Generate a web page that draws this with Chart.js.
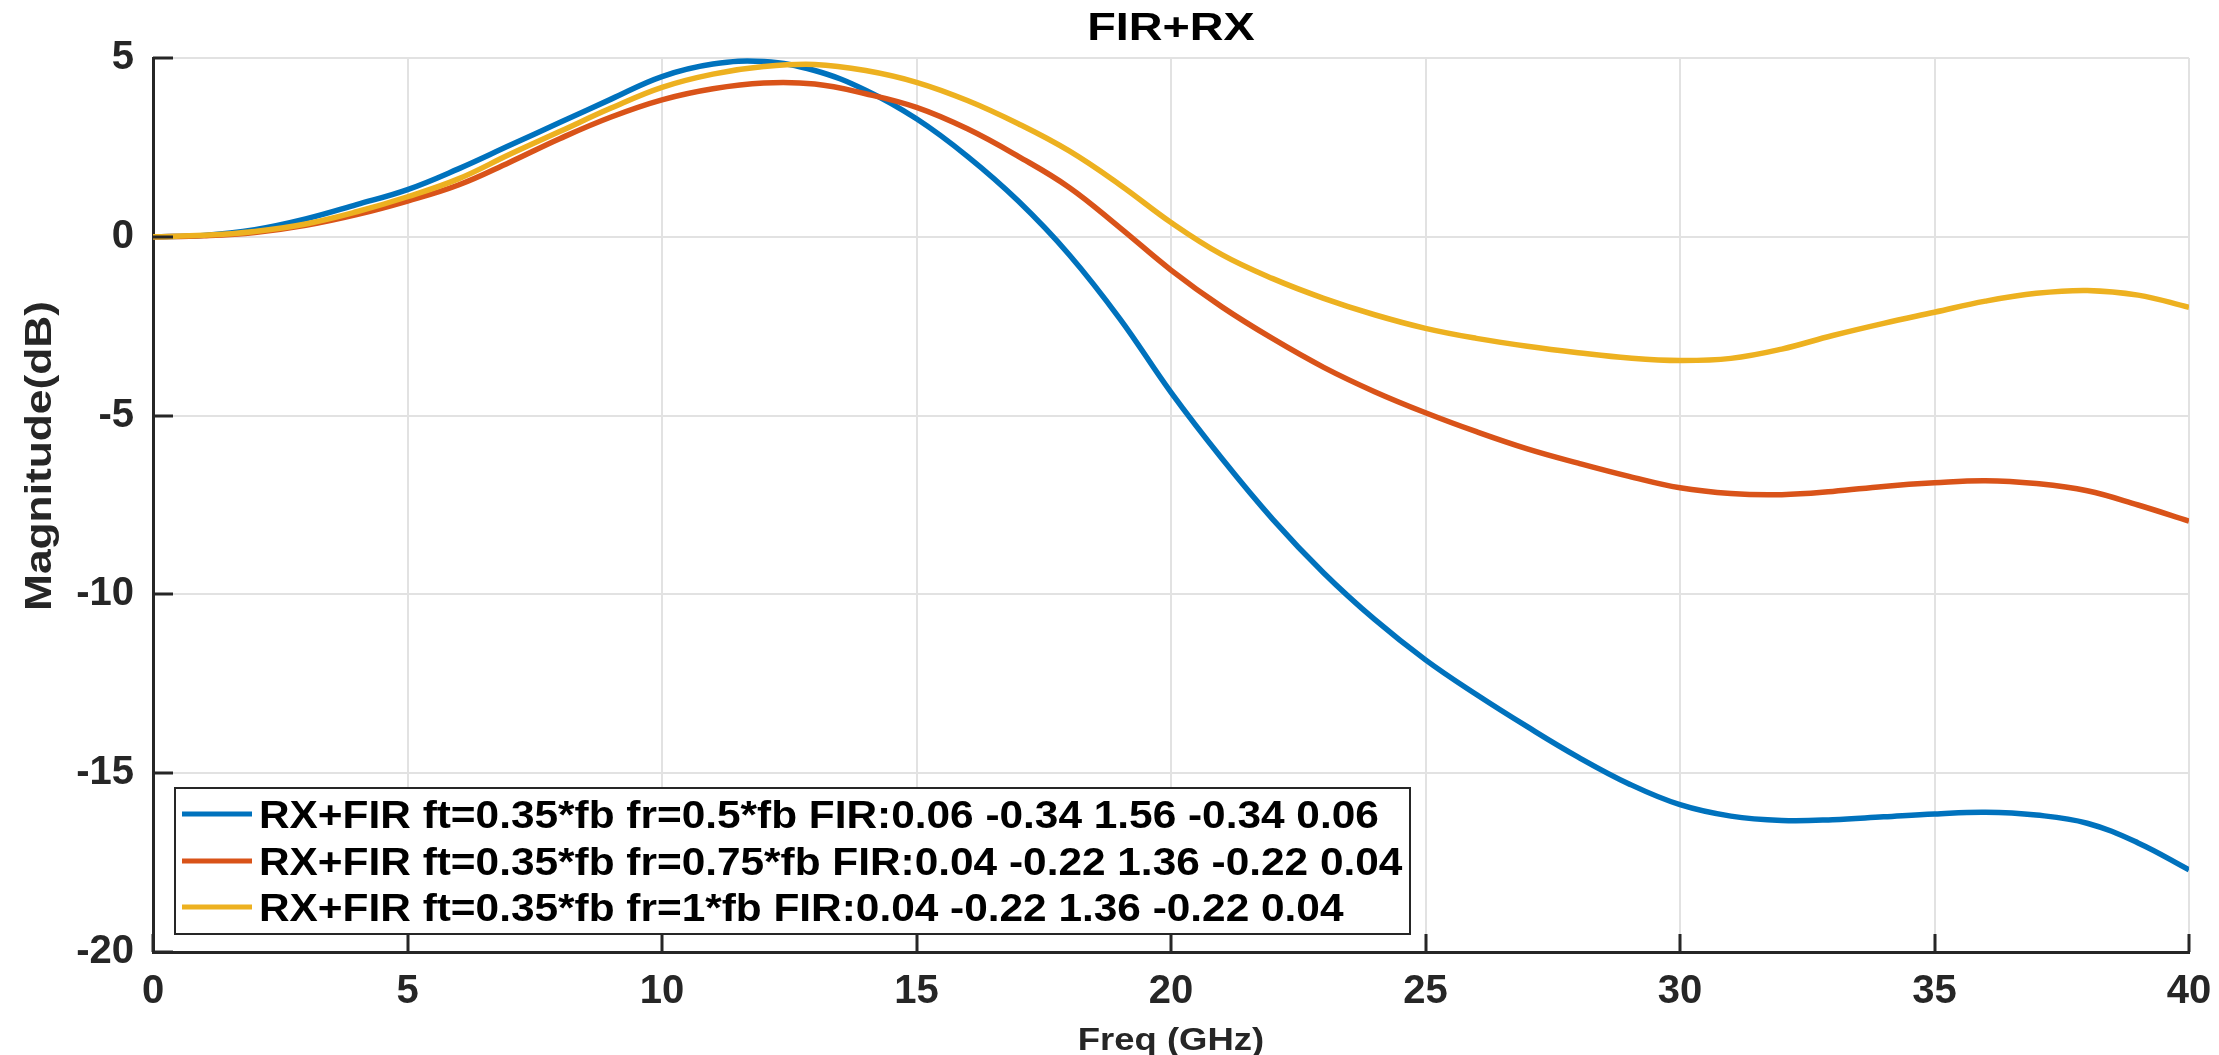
<!DOCTYPE html>
<html>
<head>
<meta charset="utf-8">
<title>FIR+RX</title>
<script src="https://cdn.jsdelivr.net/npm/chart.js@4.4.1/dist/chart.umd.min.js"></script>
<style>
    html, body { margin: 0; padding: 0; background: #ffffff; }
    #wrap { width: 2219px; height: 1055px; }
</style>
</head>
<body>
<div id="wrap"><canvas id="firChart" width="2219" height="1055"></canvas></div>
<script>
// frequency grid (GHz) and magnitude (dB)
const freqGHz = [0, 1, 2, 3, 4, 5, 6, 7, 8, 9, 10, 11, 12, 13, 14, 15, 16, 17, 18, 19, 20,
    21, 22, 23, 24, 25, 26, 27, 28, 29, 30, 31, 32, 33, 34, 35, 36, 37, 38, 39, 40];
const magFr05 = [0, 0.04, 0.2, 0.5, 0.9, 1.32, 1.9, 2.55, 3.2, 3.85, 4.48, 4.83, 4.9, 4.65, 4.1, 3.3, 2.25, 1.0, -0.5, -2.3, -4.35,
    -6.2, -7.9, -9.4, -10.7, -11.83, -12.8, -13.7, -14.55, -15.3, -15.88, -16.2, -16.32, -16.3, -16.22, -16.14, -16.09, -16.17, -16.4, -16.95, -17.7];
const magFr075 = [0, 0.03, 0.12, 0.32, 0.62, 1.0, 1.45, 2.08, 2.75, 3.35, 3.83, 4.14, 4.3, 4.27, 4.0, 3.62, 3.02, 2.25, 1.38, 0.25, -0.93,
    -1.96, -2.85, -3.65, -4.33, -4.92, -5.45, -5.93, -6.33, -6.7, -7.02, -7.18, -7.21, -7.12, -6.98, -6.88, -6.82, -6.9, -7.1, -7.5, -7.95];
const magFr1 = [0, 0.04, 0.15, 0.36, 0.7, 1.12, 1.62, 2.3, 2.95, 3.6, 4.18, 4.55, 4.76, 4.82, 4.65, 4.32, 3.81, 3.16, 2.4, 1.45, 0.4,
    -0.5, -1.17, -1.72, -2.18, -2.56, -2.84, -3.06, -3.24, -3.39, -3.46, -3.4, -3.14, -2.76, -2.42, -2.11, -1.8, -1.58, -1.5, -1.63, -1.97];

const seriesLabels = [
    'RX+FIR ft=0.35*fb fr=0.5*fb FIR:0.06 -0.34 1.56 -0.34 0.06',
    'RX+FIR ft=0.35*fb fr=0.75*fb FIR:0.04 -0.22 1.36 -0.22 0.04',
    'RX+FIR ft=0.35*fb fr=1*fb FIR:0.04 -0.22 1.36 -0.22 0.04'
];
const seriesValues = [magFr05, magFr075, magFr1];
const lineColors = ['#0072BD', '#D95319', '#EDB120'];

const xTickStep = 5;
const yTickStep = 5;
const xRange = [0, 40];
const yRange = [-20, 5];

const chartTitle = 'FIR+RX';
const xAxisTitle = 'Freq (GHz)';
const yAxisTitle = 'Magnitude(dB)';

const axisInk = '#262626';
const fontFamily = '"Liberation Sans", Arial, Helvetica, sans-serif';

// text in the source figure is stretched sideways, so draw it with a horizontal scale
function drawStretched(ctx, text, x, y, size, stretch, align, color) {
    ctx.save();
    ctx.translate(x, y);
    ctx.scale(stretch, 1);
    ctx.font = `bold ${size}px ${fontFamily}`;
    ctx.fillStyle = color;
    ctx.textAlign = align;
    ctx.textBaseline = 'alphabetic';
    ctx.fillText(text, 0, 0);
    ctx.restore();
}

const matlabDecor = {
    id: 'matlabDecor',
    afterDraw(chart) {
        const ctx = chart.ctx;
        const area = chart.chartArea;
        const xs = chart.scales.x;
        const ys = chart.scales.y;

        // inward tick marks, like the MATLAB axes
        ctx.save();
        ctx.strokeStyle = axisInk;
        ctx.lineWidth = 3;
        ctx.beginPath();
        xs.ticks.forEach(t => {
            const px = Math.round(xs.getPixelForValue(t.value));
            ctx.moveTo(px, area.bottom);
            ctx.lineTo(px, area.bottom - 18);
        });
        ys.ticks.forEach(t => {
            const py = Math.round(ys.getPixelForValue(t.value));
            ctx.moveTo(area.left, py);
            ctx.lineTo(area.left + 20, py);
        });
        ctx.stroke();
        ctx.restore();

        // title and axis labels
        const midX = (area.left + area.right) / 2;
        drawStretched(ctx, chartTitle, midX, 40, 38, 1.23, 'center', '#000000');
        drawStretched(ctx, xAxisTitle, midX, 1050, 32, 1.14, 'center', axisInk);

        ctx.save();
        ctx.translate(51, 456);
        ctx.rotate(-Math.PI / 2);
        ctx.scale(1.23, 1);
        ctx.font = `bold 36px ${fontFamily}`;
        ctx.fillStyle = axisInk;
        ctx.textAlign = 'center';
        ctx.textBaseline = 'alphabetic';
        ctx.fillText(yAxisTitle, 0, 0);
        ctx.restore();

        // legend box in the lower left of the axes
        const box = { left: 175, top: 788, right: 1410, bottom: 934 };
        ctx.save();
        ctx.fillStyle = '#ffffff';
        ctx.fillRect(box.left, box.top, box.right - box.left, box.bottom - box.top);
        ctx.strokeStyle = axisInk;
        ctx.lineWidth = 2;
        ctx.strokeRect(box.left, box.top, box.right - box.left, box.bottom - box.top);
        const rowY = [814, 861, 907];
        chart.data.datasets.forEach((ds, i) => {
            ctx.strokeStyle = ds.borderColor;
            ctx.lineWidth = 5;
            ctx.beginPath();
            ctx.moveTo(182, rowY[i]);
            ctx.lineTo(252, rowY[i]);
            ctx.stroke();
            drawStretched(ctx, ds.label, 259, rowY[i] + 13.5, 38, 1.115, 'left', '#000000');
        });
        ctx.restore();
    }
};

const ctx = document.getElementById('firChart').getContext('2d');

new Chart(ctx, {
    type: 'line',
    data: {
        datasets: seriesValues.map((vals, i) => ({
            label: seriesLabels[i],
            data: freqGHz.map((f, k) => ({ x: f, y: vals[k] })),
            borderColor: lineColors[i],
            backgroundColor: lineColors[i],
            borderWidth: 5.5,
            pointRadius: 0,
            fill: false,
            tension: 0.4,
            order: 3 - i
        }))
    },
    options: {
        responsive: false,
        animation: false,
        layout: { padding: { top: 58, right: 30, left: 0, bottom: 0 } },
        plugins: {
            legend: { display: false },
            title: { display: false },
            tooltip: { enabled: false }
        },
        scales: {
            x: {
                type: 'linear',
                min: xRange[0],
                max: xRange[1],
                afterFit: scale => {
                    scale.height = 103;
                    scale.paddingLeft = 0;
                    scale.paddingRight = 0;
                },
                ticks: {
                    stepSize: xTickStep,
                    padding: 16,
                    color: axisInk,
                    font: { family: fontFamily, size: 40, weight: 'bold' },
                    maxRotation: 0
                },
                grid: { color: '#e2e2e2', lineWidth: 2, drawTicks: false },
                border: { color: axisInk, width: 3 }
            },
            y: {
                type: 'linear',
                min: yRange[0],
                max: yRange[1],
                afterFit: scale => {
                    scale.width = 153;
                    scale.paddingTop = 0;
                    scale.paddingBottom = 0;
                },
                ticks: {
                    stepSize: yTickStep,
                    padding: 19,
                    color: axisInk,
                    font: { family: fontFamily, size: 40, weight: 'bold' }
                },
                grid: { color: '#e2e2e2', lineWidth: 2, drawTicks: false },
                border: { color: axisInk, width: 3 }
            }
        }
    },
    plugins: [matlabDecor]
});
</script>
</body>
</html>
